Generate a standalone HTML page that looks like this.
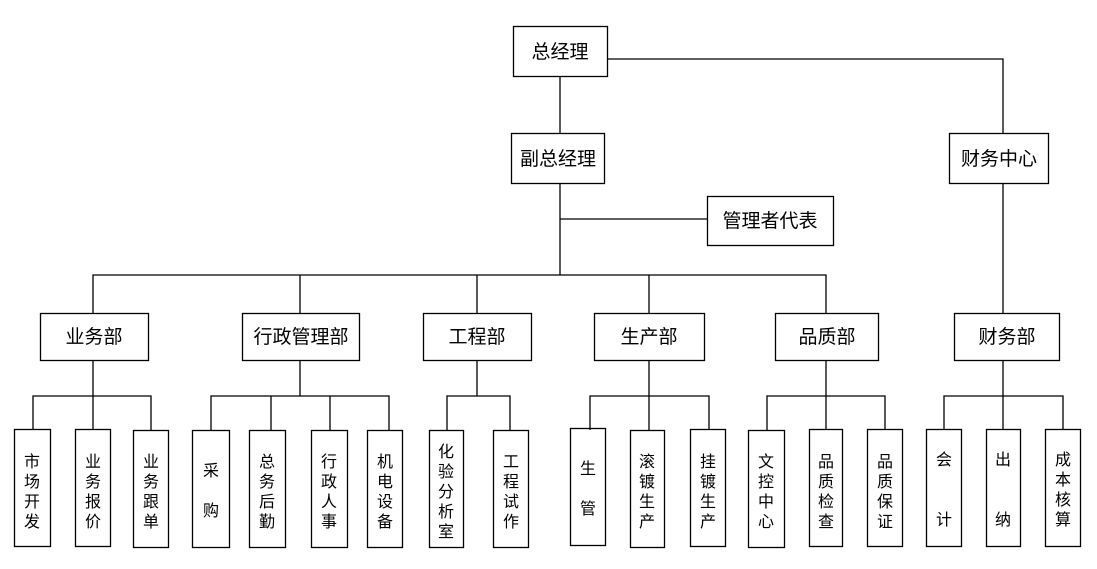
<!DOCTYPE html>
<html><head><meta charset="utf-8"><style>
html,body{margin:0;padding:0;background:#fff;}
svg{display:block;}
text{font-family:"Liberation Sans","Noto Sans CJK SC","WenQuanYi Zen Hei",sans-serif;fill:#000;}
</style></head><body>
<svg width="1097" height="569" viewBox="0 0 1097 569" xmlns="http://www.w3.org/2000/svg">
<g stroke="#000" stroke-width="1.3" fill="none">
<!-- top lines -->
<path d="M560 77V133M607 59H1003V133M560 184V275M560 219H707M1003 184V313"/>
<path d="M93 313V275H826V313M300 275V313M477 275V313M649 275V313"/>
<!-- dept lower buses -->
<path d="M93 360V396M33 430V396H151V430M93 396V430"/>
<path d="M300 360V396M211 430V396H389V430M271 396V430M330 396V430"/>
<path d="M477 360V396M447 430V396H510V430"/>
<path d="M649 360V396M590 430V396H709V430M649 396V430"/>
<path d="M826 360V396M767 430V396H885V430M826 396V430"/>
<path d="M1003 360V396M944 430V396H1063V430M1003 396V430"/>
<!-- boxes -->
<rect x="513.5" y="26.5" width="94" height="50"/>
<rect x="511.5" y="133.5" width="93" height="50"/>
<rect x="949.5" y="133.5" width="99" height="50"/>
<rect x="707.5" y="196.5" width="126" height="49"/>
<rect x="40.5" y="313.5" width="108" height="47"/>
<rect x="242.5" y="313.5" width="117" height="47"/>
<rect x="423.5" y="313.5" width="108" height="47"/>
<rect x="594.5" y="313.5" width="110" height="47"/>
<rect x="775.5" y="313.5" width="103" height="47"/>
<rect x="954.5" y="313.5" width="105" height="47"/>
<rect x="14.5" y="429.5" width="36" height="117"/>
<rect x="75.5" y="429.5" width="35" height="117"/>
<rect x="133.5" y="430.5" width="35" height="117"/>
<rect x="192.5" y="430.5" width="37" height="117"/>
<rect x="249.5" y="430.5" width="36" height="117"/>
<rect x="311.5" y="430.5" width="36" height="117"/>
<rect x="367.5" y="430.5" width="35" height="117"/>
<rect x="429.5" y="430.5" width="34" height="117"/>
<rect x="493.5" y="430.5" width="35" height="117"/>
<rect x="570.5" y="428.5" width="35" height="117"/>
<rect x="630.5" y="430.5" width="34" height="117"/>
<rect x="690.5" y="429.5" width="35" height="117"/>
<rect x="748.5" y="430.5" width="36" height="117"/>
<rect x="809.5" y="429.5" width="33" height="117"/>
<rect x="867.5" y="429.5" width="35" height="117"/>
<rect x="926.5" y="429.5" width="35" height="117"/>
<rect x="986.5" y="429.5" width="34" height="117"/>
<rect x="1045.5" y="429.5" width="35" height="117"/>
</g>
<g font-size="19" text-anchor="middle">
<text x="560" y="58">总经理</text>
<text x="558" y="165">副总经理</text>
<text x="999" y="165">财务中心</text>
<text x="770" y="227">管理者代表</text>
<text x="94" y="343">业务部</text>
<text x="301" y="343">行政管理部</text>
<text x="477" y="343">工程部</text>
<text x="649" y="343">生产部</text>
<text x="827" y="343">品质部</text>
<text x="1007" y="343">财务部</text>
</g>
<g font-size="16" text-anchor="middle">
<text x="32" y="467">市</text><text x="32" y="487">场</text><text x="32" y="507">开</text><text x="32" y="527">发</text>
<text x="93" y="467">业</text><text x="93" y="487">务</text><text x="93" y="507">报</text><text x="93" y="527">价</text>
<text x="151" y="467">业</text><text x="151" y="487">务</text><text x="151" y="507">跟</text><text x="151" y="527">单</text>
<text x="211" y="476">采</text><text x="211" y="516">购</text>
<text x="267" y="467">总</text><text x="267" y="487">务</text><text x="267" y="507">后</text><text x="267" y="527">勤</text>
<text x="329" y="467">行</text><text x="329" y="487">政</text><text x="329" y="507">人</text><text x="329" y="527">事</text>
<text x="385" y="467">机</text><text x="385" y="487">电</text><text x="385" y="507">设</text><text x="385" y="527">备</text>
<text x="446" y="457">化</text><text x="446" y="477">验</text><text x="446" y="497">分</text><text x="446" y="517">析</text><text x="446" y="537">室</text>
<text x="511" y="467">工</text><text x="511" y="487">程</text><text x="511" y="507">试</text><text x="511" y="527">作</text>
<text x="588" y="474">生</text><text x="588" y="514">管</text>
<text x="647" y="467">滚</text><text x="647" y="487">镀</text><text x="647" y="507">生</text><text x="647" y="527">产</text>
<text x="708" y="467">挂</text><text x="708" y="487">镀</text><text x="708" y="507">生</text><text x="708" y="527">产</text>
<text x="766" y="467">文</text><text x="766" y="487">控</text><text x="766" y="507">中</text><text x="766" y="527">心</text>
<text x="826" y="467">品</text><text x="826" y="487">质</text><text x="826" y="507">检</text><text x="826" y="527">查</text>
<text x="885" y="467">品</text><text x="885" y="487">质</text><text x="885" y="507">保</text><text x="885" y="527">证</text>
<text x="944" y="465">会</text><text x="944" y="525">计</text>
<text x="1003" y="465">出</text><text x="1003" y="525">纳</text>
<text x="1063" y="465">成</text><text x="1063" y="485">本</text><text x="1063" y="505">核</text><text x="1063" y="525">算</text>
</g>
</svg>
</body></html>
